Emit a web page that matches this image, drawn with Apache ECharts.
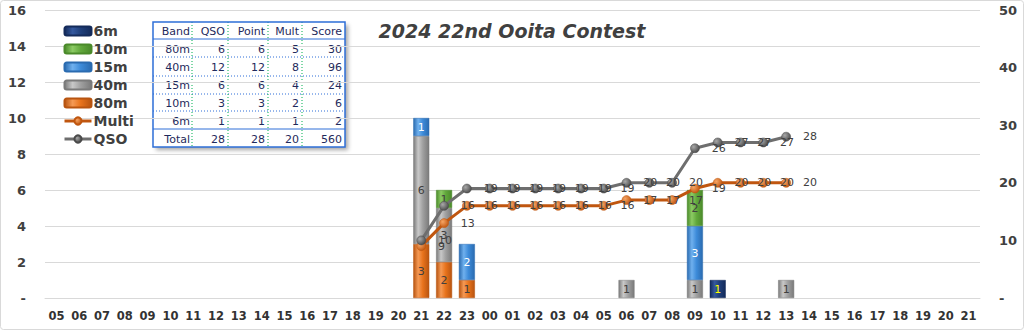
<!DOCTYPE html>
<html>
<head>
<meta charset="utf-8">
<script src="https://cdn.jsdelivr.net/npm/echarts@6/dist/echarts.min.js"></script>
<style>
html,body{margin:0;padding:0;background:#fff;}
#chart{width:1024px;height:330px;}
</style>
</head>
<body>
<div id="chart"></div>
<script>
// ---- data ----
const hours = ['05','06','07','08','09','10','11','12','13','14','15','16','17','18','19','20','21','22','23',
  '00','01','02','03','04','05','06','07','08','09','10','11','12','13','14','15','16','17','18','19','20','21'];
const _ = null;
const band80m = [_,_,_,_,_,_,_,_,_,_,_,_,_,_,_,_,3,2,1, _,_,_,_,_,_,_,_,_,_,_,_,_,_,_,_,_,_,_,_,_,_];
const band40m = [_,_,_,_,_,_,_,_,_,_,_,_,_,_,_,_,6,3,_, _,_,_,_,_,_,1,_,_,1,_,_,_,1,_,_,_,_,_,_,_,_];
const band15m = [_,_,_,_,_,_,_,_,_,_,_,_,_,_,_,_,1,_,2, _,_,_,_,_,_,_,_,_,3,_,_,_,_,_,_,_,_,_,_,_,_];
const band10m = [_,_,_,_,_,_,_,_,_,_,_,_,_,_,_,_,_,1,_, _,_,_,_,_,_,_,_,_,2,_,_,_,_,_,_,_,_,_,_,_,_];
const band6m  = [_,_,_,_,_,_,_,_,_,_,_,_,_,_,_,_,_,_,_, _,_,_,_,_,_,_,_,_,_,1,_,_,_,_,_,_,_,_,_,_,_];
const multi   = [_,_,_,_,_,_,_,_,_,_,_,_,_,_,_,_,9,13,16, 16,16,16,16,16,16,17,17,17,19,20,20,20,20,_,_,_,_,_,_,_,_];
const qso     = [_,_,_,_,_,_,_,_,_,_,_,_,_,_,_,_,10,16,19, 19,19,19,19,19,19,20,20,20,26,27,27,27,28,_,_,_,_,_,_,_,_];

const tblHeader = ['Band','QSO','Point','Mult','Score'];
const tblBand  = ['80m','40m','15m','10m','6m'];
const tblQso   = [6,12,6,3,1];
const tblPoint = [6,12,6,3,1];
const tblMult  = [5,8,4,2,1];
const tblScore = [30,96,24,6,2];
const tblTotal = ['Total',28,28,20,560];

// ---- styling helpers ----
function barGrad(edge, mid, light){
  return new echarts.graphic.LinearGradient(0,0,1,0,[
    {offset:0,color:edge},{offset:0.3,color:light},{offset:0.6,color:mid},{offset:1,color:edge}]);
}
function ballGrad(light, dark){
  return new echarts.graphic.RadialGradient(0.35,0.35,0.7,[
    {offset:0,color:light},{offset:1,color:dark}]);
}
const FONT = 'DejaVu Sans';
function barSeries(name, data, edge, mid, light, labelColor){
  return {
    name, type:'bar', stack:'bands', data, barWidth:16,
    itemStyle:{color:barGrad(edge, mid, light), borderColor:edge, borderWidth:0.5},
    label:{show:true, position:'inside', color:labelColor, fontSize:11, fontFamily:FONT},
    z:2
  };
}
function lineSeries(name, data, lineColor, light, dark){
  return {
    name, type:'line', yAxisIndex:1, data, connectNulls:false,
    symbol:'circle', symbolSize:9,
    lineStyle:{color:lineColor, width:3},
    itemStyle:{color:ballGrad(light, dark), borderColor:dark, borderWidth:0.5},
    label:{show:true, position:'right', distance:12, color:'#404040', fontSize:11, fontFamily:FONT},
    z:5
  };
}

// ---- table graphic ----
const tx = 153, ty = 22, tw = 192, th = 125;
const colLines = [192,228,268,302];
const colRight = [190,225,265,299,342];
const rowH = 18, row0 = 31;
const tableEls = [];
tableEls.push({type:'rect', shape:{x:tx,y:ty,width:tw,height:th},
  style:{fill:'#fff', shadowBlur:4, shadowOffsetX:3, shadowOffsetY:3, shadowColor:'rgba(0,0,0,0.35)'}});
[57,76,94,111].forEach(y=>tableEls.push({type:'line', shape:{x1:tx,y1:y,x2:tx+tw,y2:y},
  style:{stroke:'#2E6FD8', lineWidth:1, lineDash:[1,2]}}));
[39,129].forEach(y=>tableEls.push({type:'line', shape:{x1:tx,y1:y,x2:tx+tw,y2:y},
  style:{stroke:'#2E6FD8', lineWidth:1}}));
colLines.forEach(x=>tableEls.push({type:'line', shape:{x1:x,y1:ty,x2:x,y2:ty+th},
  style:{stroke:'#00B050', lineWidth:1, lineDash:[1,2]}}));
tableEls.push({type:'rect', shape:{x:tx,y:ty,width:tw,height:th},
  style:{fill:'none', stroke:'#2E6FD8', lineWidth:1.5}});
const rows = [tblHeader];
tblBand.forEach((b,i)=>rows.push([b, tblQso[i], tblPoint[i], tblMult[i], tblScore[i]]));
rows.push(tblTotal);
rows.forEach((r,ri)=>r.forEach((v,ci)=>tableEls.push({type:'text',
  x:colRight[ci], y:row0+ri*rowH,
  style:{text:String(v), align:'right', verticalAlign:'middle', fill:'#1F2A5C', fontSize:11, fontFamily:FONT}})));

const chart = echarts.init(document.getElementById('chart'), null, {renderer:'svg'});
const axisLbl = {color:'#404040', fontSize:13, fontWeight:'bold', fontFamily:FONT};
const legendNames = ['6m','10m','15m','40m','80m','Multi','QSO'];
chart.setOption({
  animation:false,
  backgroundColor:'#fff',
  title:{text:'2024 22nd Ooita Contest', left:'center', top:16,
    textStyle:{fontFamily:FONT, fontStyle:'italic', fontWeight:'bold', fontSize:19, color:'#404040'}},
  legend:{orient:'vertical', left:58, top:19, itemWidth:27, itemHeight:9, itemGap:4,
    data:legendNames.map(n=>(n==='Multi'||n==='QSO')?{name:n, lineStyle:{width:3}}:{name:n}),
    textStyle:{color:'#404040', fontSize:14, fontWeight:'bold', fontFamily:FONT, padding:[0,0,0,-3]}},
  grid:{left:45, right:44, top:10, bottom:32},
  xAxis:{type:'category', data:hours,
    axisLine:{lineStyle:{color:'#d9d9d9'}}, axisTick:{show:false},
    axisLabel:{color:'#333333', fontSize:11.5, fontWeight:'bold', fontFamily:FONT, margin:12, interval:0}},
  yAxis:[
    {type:'value', min:0, max:16, interval:2, position:'left',
      axisLine:{show:false}, axisTick:{show:false},
      splitLine:{lineStyle:{color:'#d9d9d9'}},
      axisLabel:Object.assign({margin:19, formatter:v=>v===0?'-':String(v)}, axisLbl)},
    {type:'value', min:0, max:50, interval:10, position:'right',
      axisLine:{show:false}, axisTick:{show:false}, splitLine:{show:false},
      axisLabel:Object.assign({margin:19, formatter:v=>v===0?'-':String(v)}, axisLbl)}
  ],
  series:[
    barSeries('80m', band80m, '#B85410', '#E8731C', '#F59A55', '#404040'),
    barSeries('40m', band40m, '#7A7A7A', '#A0A0A0', '#C8C8C8', '#404040'),
    barSeries('15m', band15m, '#2A6BB0', '#3D8BD9', '#6FB0EE', '#ffffff'),
    barSeries('10m', band10m, '#4A8A2A', '#62A83C', '#8CCB64', '#404040'),
    barSeries('6m',  band6m,  '#142B5A', '#1F3F7A', '#34589E', '#FFFF00'),
    lineSeries('Multi', multi, '#C0560F', '#F6A565', '#C0560F'),
    lineSeries('QSO', qso, '#6E6E6E', '#A8A8A8', '#4A4A4A')
  ],
  graphic:[
    {type:'rect', z:-1, shape:{x:0.5,y:0.5,width:1023,height:329,r:3}, style:{fill:'none', stroke:'#d9d9d9', lineWidth:1}},
    {type:'group', z:100, children:tableEls}
  ]
});
</script>
</body>
</html>
